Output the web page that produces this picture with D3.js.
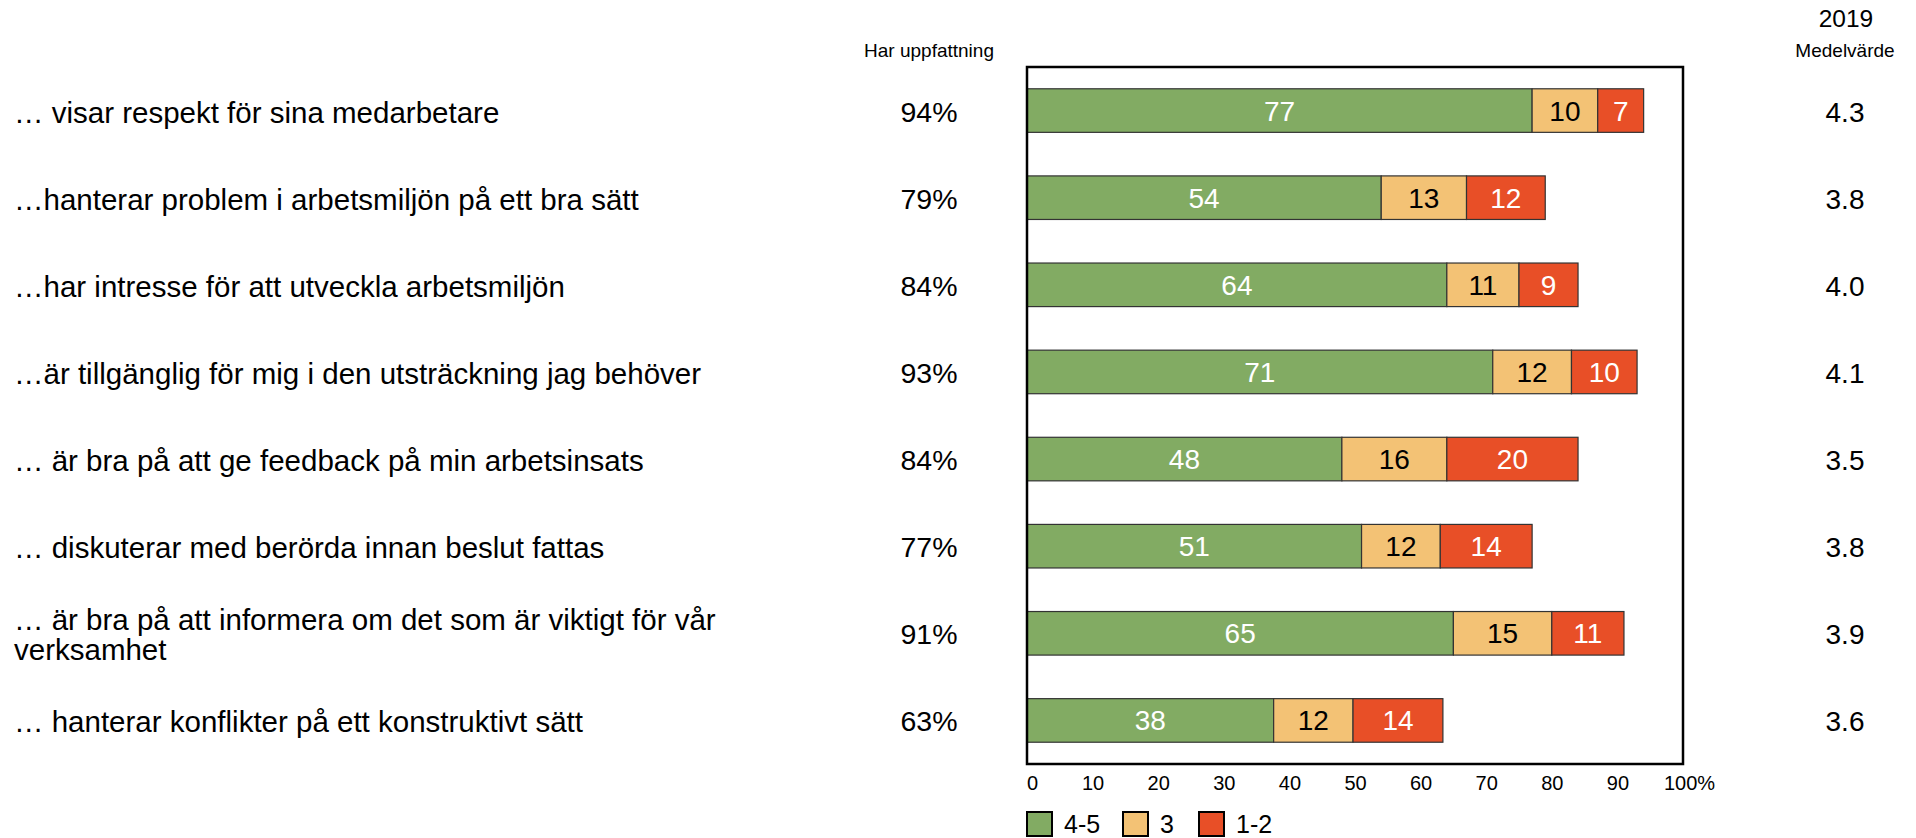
<!DOCTYPE html>
<html>
<head>
<meta charset="utf-8">
<script src="https://d3js.org/d3.v7.min.js"></script>
<style>
  body { margin: 0; background: #fff; }
  svg text { font-family: "Liberation Sans", Arial, sans-serif; }
</style>
</head>
<body>
<svg width="1916" height="838"></svg>
<script>

var statements = [
  "\u2026 visar respekt för sina medarbetare",
  "\u2026hanterar problem i arbetsmiljön på ett bra sätt",
  "\u2026har intresse för att utveckla arbetsmiljön",
  "\u2026är tillgänglig för mig i den utsträckning jag behöver",
  "\u2026 är bra på att ge feedback på min arbetsinsats",
  "\u2026 diskuterar med berörda innan beslut fattas",
  "\u2026 är bra på att informera om det som är viktigt för vår\nverksamhet",
  "\u2026 hanterar konflikter på ett konstruktivt sätt"
];
var high = [77, 54, 64, 71, 48, 51, 65, 37.6];   // 4-5
var mid  = [10, 13, 11, 12, 16, 12, 15, 12.1];   // 3
var low  = [7, 12, 9, 10, 20, 14, 11, 13.7];     // 1-2
var share = ["94%", "79%", "84%", "93%", "84%", "77%", "91%", "63%"];
var means = ["4.3", "3.8", "4.0", "4.1", "3.5", "3.8", "3.9", "3.6"];
var ticks = [0, 10, 20, 30, 40, 50, 60, 70, 80, 90, 100];
var seriesNames = ["4-5", "3", "1-2"];

var colors = ["#82ab63", "#f3c275", "#e84f27"];
var textColors = ["#fff", "#000", "#fff"];

var svg = d3.select("svg");

var x = d3.scaleLinear().domain([0, 100]).range([1027, 1683]);
var y = d3.scaleBand()
    .domain(d3.range(statements.length))
    .range([67, 764])
    .paddingInner(0.5)
    .paddingOuter(0.25);

var rows = statements.map(function(s, i) {
  return { i: i, vals: [high[i], mid[i], low[i]] };
});

// stacked segments
var segs = [];
rows.forEach(function(r) {
  var x0 = 0;
  r.vals.forEach(function(v, k) {
    segs.push({ i: r.i, k: k, x0: x0, x1: x0 + v, v: v });
    x0 += v;
  });
});

svg.append("g")
  .selectAll("rect")
  .data(segs)
  .enter().append("rect")
    .attr("x", function(d) { return x(d.x0); })
    .attr("y", function(d) { return y(d.i); })
    .attr("width", function(d) { return x(d.x1) - x(d.x0); })
    .attr("height", y.bandwidth())
    .attr("fill", function(d) { return colors[d.k]; })
    .attr("stroke", "#333")
    .attr("stroke-width", 1.2);

svg.append("g")
  .selectAll("text")
  .data(segs)
  .enter().append("text")
    .attr("x", function(d) { return (x(d.x0) + x(d.x1)) / 2; })
    .attr("y", function(d) { return y(d.i) + y.bandwidth() / 2 + 10; })
    .attr("text-anchor", "middle")
    .attr("font-size", 28)
    .attr("fill", function(d) { return textColors[d.k]; })
    .text(function(d) { return Math.round(d.v); });

// plot frame
svg.append("rect")
    .attr("x", x(0))
    .attr("y", y.range()[0])
    .attr("width", x(100) - x(0))
    .attr("height", y.range()[1] - y.range()[0])
    .attr("fill", "none")
    .attr("stroke", "#000")
    .attr("stroke-width", 2.5);

// x axis
var axis = svg.append("g")
    .attr("transform", "translate(0," + y.range()[1] + ")")
    .call(d3.axisBottom(x)
      .tickValues(ticks)
      .tickSize(0)
      .tickPadding(12)
      .tickFormat(function(d) { return d === 100 ? "100%" : d; }));
axis.select(".domain").remove();
axis.selectAll("text")
    .attr("font-size", 20)
    .attr("font-family", "Liberation Sans, Arial, sans-serif")
    .attr("fill", "#000")
    .attr("dx", function(d) { return d === 0 ? 5 : (d === 100 ? 6 : 0); });

// statement labels
var lab = svg.append("g")
  .selectAll("text")
  .data(statements)
  .enter().append("text")
    .attr("font-size", 29.5)
    .attr("fill", "#000")
    .attr("y", function(d, i) {
      var n = d.split("\n").length;
      return y(i) + y.bandwidth() / 2 + 12 - (n - 1) * 15;
    });
lab.selectAll("tspan")
  .data(function(d) { return d.split("\n"); })
  .enter().append("tspan")
    .attr("x", 14)
    .attr("dy", function(d, j) { return j === 0 ? 0 : 30; })
    .text(function(d) { return d; });

// share column
svg.append("g")
  .selectAll("text")
  .data(share)
  .enter().append("text")
    .attr("x", 929)
    .attr("y", function(d, i) { return y(i) + y.bandwidth() / 2 + 11; })
    .attr("text-anchor", "middle")
    .attr("font-size", 28.5)
    .text(function(d) { return d; });

// mean column
svg.append("g")
  .selectAll("text")
  .data(means)
  .enter().append("text")
    .attr("x", 1845)
    .attr("y", function(d, i) { return y(i) + y.bandwidth() / 2 + 11; })
    .attr("text-anchor", "middle")
    .attr("font-size", 28)
    .text(function(d) { return d; });

// headers
svg.append("text")
    .attr("x", 929).attr("y", 57)
    .attr("text-anchor", "middle")
    .attr("font-size", 19)
    .text("Har uppfattning");

svg.append("text")
    .attr("x", 1846).attr("y", 27)
    .attr("text-anchor", "middle")
    .attr("font-size", 24.5)
    .text("2019");

svg.append("text")
    .attr("x", 1845).attr("y", 57)
    .attr("text-anchor", "middle")
    .attr("font-size", 19)
    .text("Medelvärde");

// legend
var legendX = [1027, 1123, 1199];
var leg = svg.append("g")
  .selectAll("g")
  .data(seriesNames)
  .enter().append("g")
    .attr("transform", function(d, k) { return "translate(" + legendX[k] + ",812)"; });
leg.append("rect")
    .attr("width", 25)
    .attr("height", 24)
    .attr("fill", function(d, k) { return colors[k]; })
    .attr("stroke", "#000")
    .attr("stroke-width", 2);
leg.append("text")
    .attr("x", 37)
    .attr("y", 21)
    .attr("font-size", 25)
    .text(function(d) { return d; });

</script>
</body>
</html>
